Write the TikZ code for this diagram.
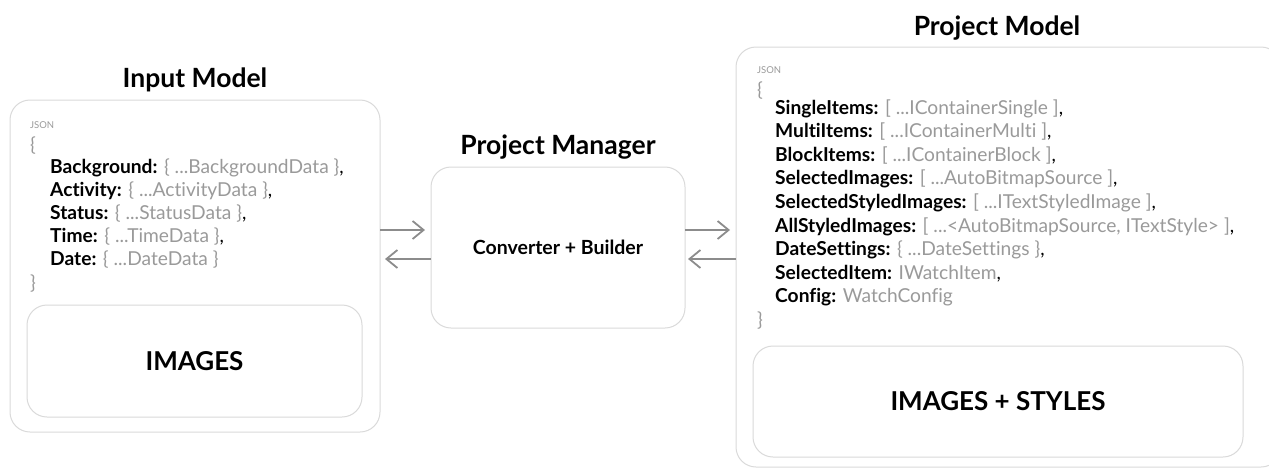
\documentclass[tikz,border=0pt]{standalone}
\usepackage{fontspec}
\setmainfont{Lato}[Ligatures={NoCommon}]
\usetikzlibrary{arrows.meta}
\definecolor{boxline}{HTML}{DADADA}
\definecolor{greytext}{HTML}{9A9A9A}
\definecolor{arrowgrey}{HTML}{8C8C8C}
\tikzset{
  box/.style={draw=boxline, line width=1pt, rounded corners=20pt, fill=white, inner sep=0pt, outer sep=0pt},
  title/.style={font=\fontsize{26.5}{30}\selectfont\bfseries, text=black},
  bigtxt/.style={font=\fontsize{26}{30}\selectfont\bfseries, text=black},
  midtxt/.style={font=\fontsize{19.5}{23}\selectfont\bfseries, text=black},
  line/.style={anchor=base west, inner sep=0pt, font=\fontsize{19.2}{23}\selectfont},
  brace/.style={anchor=base west, inner sep=0pt, font=\fontsize{19.2}{23}\selectfont, text=greytext},
  jsonlbl/.style={anchor=base west, inner sep=0pt, font=\fontsize{9.5}{11}\selectfont, text=greytext},
  arr/.style={draw=arrowgrey, line width=1.8pt, -{Straight Barb[length=11pt,width=18pt,line width=1.8pt]}},
}
\newcommand{\kv}[2]{\textbf{#1} {\color{greytext}#2}}
\begin{document}
\begin{tikzpicture}[x=1pt,y=-1pt]
\useasboundingbox (0,0) rectangle (1269,469);
% Input model
\node[title] (imt) at (195,80) {Input Model};
\node[box, minimum width=370pt, minimum height=332pt] (im) at (195,266) {};
\node[jsonlbl] (imj) at (30,128) {JSON};
\node[brace] (imo) at (30,151) {\{};
\node[line] (im1) at (50,173) {\kv{Background:}{\{ ...BackgroundData \}},};
\node[line] (im2) at (50,196) {\kv{Activity:}{\{ ...ActivityData \}},};
\node[line] (im3) at (50,219) {\kv{Status:}{\{ ...StatusData \}},};
\node[line] (im4) at (50,242) {\kv{Time:}{\{ ...TimeData \}},};
\node[line] (im5) at (50,265) {\kv{Date:}{\{ ...DateData \}}};
\node[brace] (imc) at (30,289) {\}};
\node[box, minimum width=335pt, minimum height=112pt] (imi) at (194.5,361) {};
\node[bigtxt] (imit) at (imi.center) {IMAGES};
% Project manager
\node[title] (pmt) at (558,147) {Project Manager};
\node[box, minimum width=254pt, minimum height=161pt] (pm) at (558,247.5) {};
\node[midtxt] (pmx) at (pm.center) {Converter + Builder};
% Project model
\node[title] (pdt) at (997,28) {Project Model};
\node[box, minimum width=545pt, minimum height=420pt] (pd) at (1008.5,257) {};
\node[jsonlbl] (pdj) at (757,73) {JSON};
\node[brace] (pdo) at (757,96) {\{};
\node[line] (pd1) at (775,114) {\kv{SingleItems:}{[ ...IContainerSingle ]},};
\node[line] (pd2) at (775,137.6) {\kv{MultiItems:}{[ ...IContainerMulti ]},};
\node[line] (pd3) at (775,161.2) {\kv{BlockItems:}{[ ...IContainerBlock ]},};
\node[line] (pd4) at (775,184.8) {\kv{SelectedImages:}{[ ...AutoBitmapSource ]},};
\node[line] (pd5) at (775,208.4) {\kv{SelectedStyledImages:}{[ ...ITextStyledImage ]},};
\node[line] (pd6) at (775,232) {\kv{AllStyledImages:}{[ ...<AutoBitmapSource, ITextStyle> ]},};
\node[line] (pd7) at (775,255.6) {\kv{DateSettings:}{\{ ...DateSettings \}},};
\node[line] (pd8) at (775,279.2) {\kv{SelectedItem:}{IWatchItem},};
\node[line] (pd9) at (775,302.8) {\kv{Config:}{WatchConfig}};
\node[brace] (pdc) at (757,326) {\}};
\node[box, minimum width=490pt, minimum height=111pt] (pdi) at (998,401.5) {};
\node[bigtxt] (pdit) at (pdi.center) {IMAGES + STYLES};
% arrows
\coordinate (ya) at (0,230);
\coordinate (yb) at (0,259);
\draw[arr] (im.east |- ya) -- ([xshift=-6pt]pm.west |- ya);
\draw[arr] (pm.west |- yb) -- ([xshift=5pt]im.east |- yb);
\draw[arr] (pm.east |- ya) -- ([xshift=-6pt]pd.west |- ya);
\draw[arr] (pd.west |- yb) -- ([xshift=3pt]pm.east |- yb);
\end{tikzpicture}
\end{document}
